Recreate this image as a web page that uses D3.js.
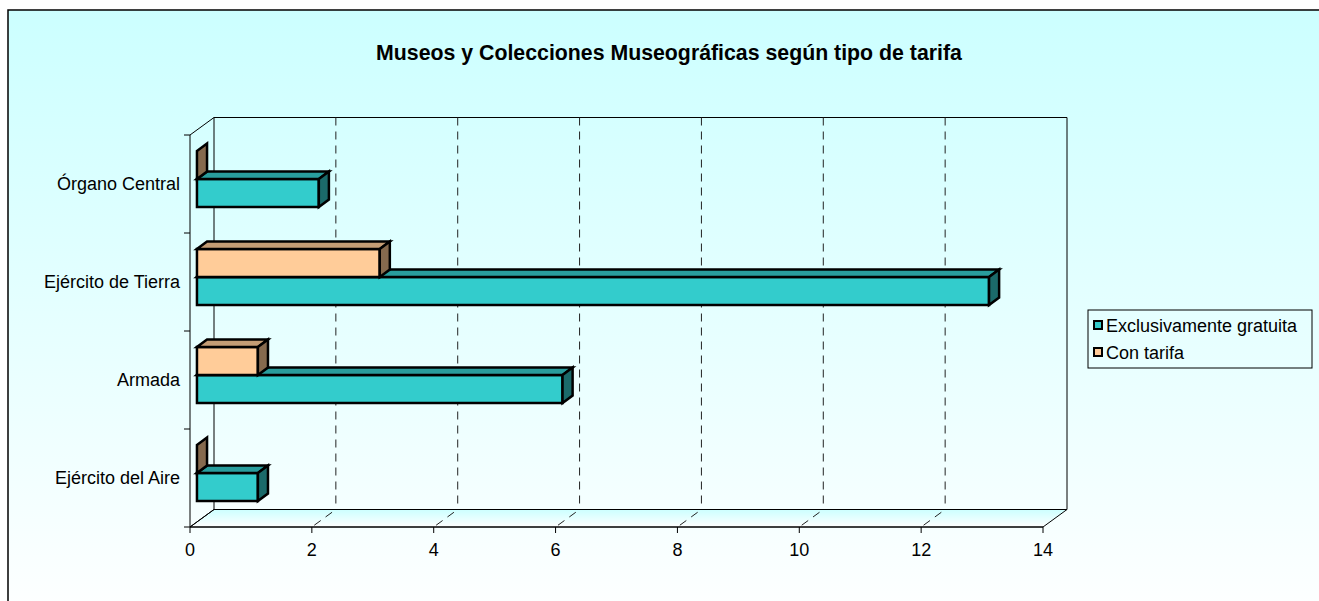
<!DOCTYPE html>
<meta charset="utf-8">
<style>
body { margin: 0; background: #fff; }
svg { font-family: "Liberation Sans", Arial, sans-serif; }
.frame-line { fill: none; stroke: #000; stroke-width: 1; }
.grid { fill: none; stroke: #222; stroke-width: 1; stroke-dasharray: 8,6; }
.bar { stroke: #000; stroke-width: 2.5; stroke-linejoin: miter; }
.tick-label, .cat-label, .legend-text { font-size: 18px; fill: #000; }
.title { font-size: 21.3px; font-weight: bold; }
</style>
<svg width="1319" height="601"></svg>
<script src="https://d3js.org/d3.v7.min.js"></script>
<script>

// data
var categories = ["Órgano Central", "Ejército de Tierra", "Armada", "Ejército del Aire"];
var seriesNames = ["Exclusivamente gratuita", "Con tarifa"];
var gratuita = [2, 13, 6, 1];
var conTarifa = [0, 3, 1, 0];
var xTicks = [0, 2, 4, 6, 8, 10, 12, 14];

var svg = d3.select("svg");

// background gradient
var defs = svg.append("defs");
var bg = defs.append("linearGradient").attr("id", "bg")
    .attr("x1", 0).attr("y1", 0).attr("x2", 0).attr("y2", 1);
bg.append("stop").attr("offset", "0%").attr("stop-color", "#ccffff");
bg.append("stop").attr("offset", "100%").attr("stop-color", "#ffffff");

var floorG = defs.append("linearGradient").attr("id", "floor")
    .attr("x1", 0).attr("y1", 0).attr("x2", 0).attr("y2", 1);
floorG.append("stop").attr("offset", "0%").attr("stop-color", "#ccffff");
floorG.append("stop").attr("offset", "100%").attr("stop-color", "#ffffff");

svg.append("rect")
    .attr("x", 8).attr("y", 10).attr("width", 1330).attr("height", 620)
    .attr("fill", "url(#bg)").attr("stroke", "#000").attr("stroke-width", 1.5);

// scales (front plane)
var x = d3.scaleLinear().domain([0, 14]).range([190, 1043]);
var y = d3.scaleBand().domain(categories).range([135, 527]);
var inner = d3.scaleBand().domain(["Con tarifa", "Exclusivamente gratuita"])
    .range([0, y.bandwidth()]).paddingOuter(0.75);

var DX = 24, DY = -17.5;     // depth offset to back wall
var t0 = 0.29, t1 = 0.71;    // bar depth position

var yTop = y.range()[0], yBot = y.range()[1];
var x0 = x(0), x1 = x(14);

function line(pts, cls) {
  return svg.append("path").attr("class", cls || "frame-line")
    .attr("d", d3.line()(pts));
}

// floor
svg.append("path")
    .attr("d", d3.line()([[x0, yBot], [x1, yBot], [x1 + DX, yBot + DY], [x0 + DX, yBot + DY]]) + "Z")
    .attr("fill", "url(#floor)").attr("stroke", "#000");

// back wall frame
line([[x0 + DX, yTop + DY], [x1 + DX, yTop + DY], [x1 + DX, yBot + DY]]);
line([[x0 + DX, yTop + DY], [x0 + DX, yBot + DY]]);
line([[x0, yTop], [x0 + DX, yTop + DY]]);
line([[x0, yBot], [x0 + DX, yBot + DY]]);

// gridlines on back wall and floor
xTicks.slice(1, -1).forEach(function(v) {
  line([[x(v) + DX, yTop + DY], [x(v) + DX, yBot + DY]], "grid");
  line([[x(v), yBot], [x(v) + DX, yBot + DY]], "grid")
    .attr("stroke-dasharray", "6,6").attr("stroke-dashoffset", -3);
});

// front axes
line([[x0, yTop], [x0, yBot]]);
line([[x0, yBot], [x1, yBot]]);

xTicks.forEach(function(v) {
  line([[x(v), yBot], [x(v), yBot + 6]]);
  svg.append("text").attr("class", "tick-label")
    .attr("x", x(v)).attr("y", yBot + 29)
    .attr("text-anchor", "middle").text(v);
});

categories.forEach(function(c) {
  line([[x0 - 6, y(c)], [x0, y(c)]]);
});
line([[x0 - 6, yBot], [x0, yBot]]);

svg.selectAll(".cat-label").data(categories).enter().append("text")
    .attr("class", "cat-label")
    .attr("x", 180)
    .attr("y", function(d) { return y(d) + y.bandwidth() / 2 + 6; })
    .attr("text-anchor", "end")
    .text(function(d) { return d; });

// 3D bars
var colors = {
  "Exclusivamente gratuita": { front: "#33cccc", top: "#299d9d", side: "#1b6a6a" },
  "Con tarifa": { front: "#ffcc99", top: "#c49d75", side: "#866a4e" }
};

var ddx = (t1 - t0) * DX, ddy = (t1 - t0) * DY;

function drawBar(cat, s, v) {
  var c = colors[s];
  var fx = x(0) + t0 * DX, ex = x(v) + t0 * DX;
  var fy = y(cat) + inner(s) + t0 * DY, ey = fy + inner.bandwidth();
  var g = svg.append("g");
  if (v > 0) {
    g.append("path").attr("class", "bar").attr("fill", c.front)
      .attr("d", d3.line()([[fx, fy], [ex, fy], [ex, ey], [fx, ey]]) + "Z");
    g.append("path").attr("class", "bar").attr("fill", c.top)
      .attr("d", d3.line()([[fx, fy], [ex, fy], [ex + ddx, fy + ddy], [fx + ddx, fy + ddy]]) + "Z");
  }
  g.append("path").attr("class", "bar").attr("fill", c.side)
    .attr("d", d3.line()([[ex, fy], [ex + ddx, fy + ddy], [ex + ddx, ey + ddy], [ex, ey]]) + "Z");
}

categories.forEach(function(cat, i) {
  drawBar(cat, "Exclusivamente gratuita", gratuita[i]);
  drawBar(cat, "Con tarifa", conTarifa[i]);
});

// title
svg.append("text").attr("class", "title")
    .attr("x", 669).attr("y", 60).attr("text-anchor", "middle")
    .text("Museos y Colecciones Museográficas según tipo de tarifa");

// legend
var legend = svg.append("g");
legend.append("rect").attr("x", 1088).attr("y", 310).attr("width", 224).attr("height", 58)
    .attr("fill", "none").attr("stroke", "#000");
seriesNames.forEach(function(s, i) {
  legend.append("rect").attr("x", 1094).attr("y", 321 + i * 27).attr("width", 8).attr("height", 8)
      .attr("fill", colors[s].front).attr("stroke", "#000").attr("stroke-width", 2);
  legend.append("text").attr("class", "legend-text")
      .attr("x", 1106).attr("y", 332 + i * 27).text(s);
});

</script>
